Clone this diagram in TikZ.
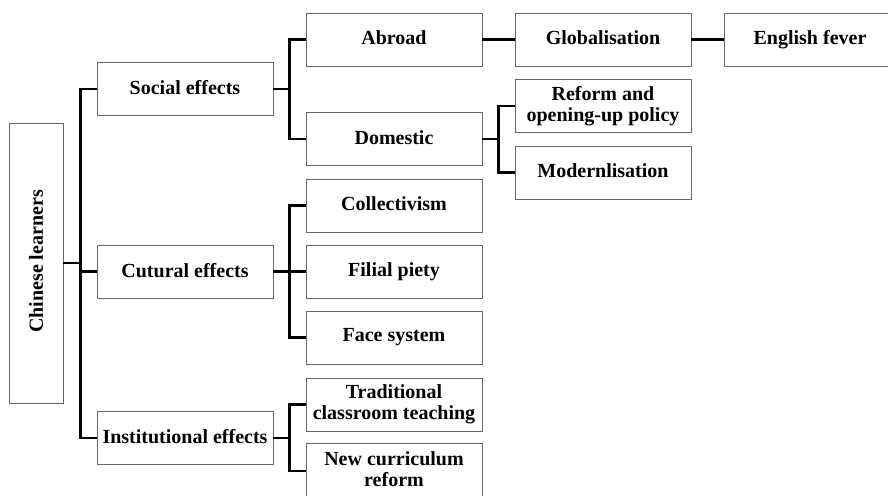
\documentclass[tikz,border=0pt]{standalone}
\usepackage{fontspec}
\setmainfont{Liberation Serif}
\usetikzlibrary{calc}
\newcommand{\capstrut}{\rule[-3pt]{0pt}{16.2pt}}

\begin{document}
\begin{tikzpicture}[x=1pt, y=-1pt,
		box/.style = {draw=black!60, line width=.8pt, minimum width=176pt, minimum height=53pt,
			inner sep=0pt, align=center, font=\fontsize{20}{21}\selectfont\bfseries,
			execute at begin node=\capstrut, execute at end node=\capstrut},
		link/.style = {line width=2.3pt}]
	\useasboundingbox (0,0) rectangle (888,495);
	% root and first level
	\node[box, minimum width=54pt, minimum height=280pt] (CL) at (36,263) {\rotatebox{90}{Chinese learners}};
	\node[box] (SE) at (185,89) {Social effects};
	\node[box] (CE) at (185,271.5) {Cutural effects};
	\node[box] (IE) at (185,438) {Institutional effects};
	% second level
	\node[box] (AB) at (394,39.5) {Abroad};
	\node[box] (DO) at (394,139) {Domestic};
	\node[box] (CO) at (394,205.5) {Collectivism};
	\node[box] (FP) at (394,271.5) {Filial piety};
	\node[box] (FS) at (394,337.5) {Face system};
	\node[box] (TC) at (394,404.5) {Traditional\\classroom teaching};
	\node[box, minimum height=56pt] (NC) at (394,471) {New curriculum\\reform};
	% third level
	\node[box] (GL) at (603,39.5) {Globalisation};
	\node[box] (RO) at (603,106) {Reform and\\opening-up policy};
	\node[box] (MO) at (603,172.5) {Modernlisation};
	\node[box, minimum width=172pt] (EF) at (810,39.5) {English fever};

	\coordinate (j1) at ($(CL.east)+(17,0)$);
	\coordinate (j2) at ($(SE.east)+(16,0)$);
	\coordinate (j3) at ($(CE.east)+(16,0)$);
	\coordinate (j4) at ($(IE.east)+(16,0)$);
	\coordinate (j5) at ($(DO.east)+(16,0)$);

	\draw[link] (SE.west) -| (j1) |- (IE.west);
	\path[link] (CL.east) edge (j1)
		(CE.west) edge (CE.west -| j1);
	\draw[link] (AB.west) -| (j2) |- (DO.west);
	\draw[link] (CO.west) -| (j3) |- (FS.west);
	\draw[link] (TC.west) -| (j4) |- (NC.west);
	\draw[link] (RO.west) -| (j5) |- (MO.west);
	\path[link] (SE.east) edge (j2)
		(CE.east) edge (FP.west)
		(IE.east) edge (j4)
		(DO.east) edge (j5)
		(AB.east) edge (GL.west)
		(GL.east) edge (EF.west);
\end{tikzpicture}
\end{document}
